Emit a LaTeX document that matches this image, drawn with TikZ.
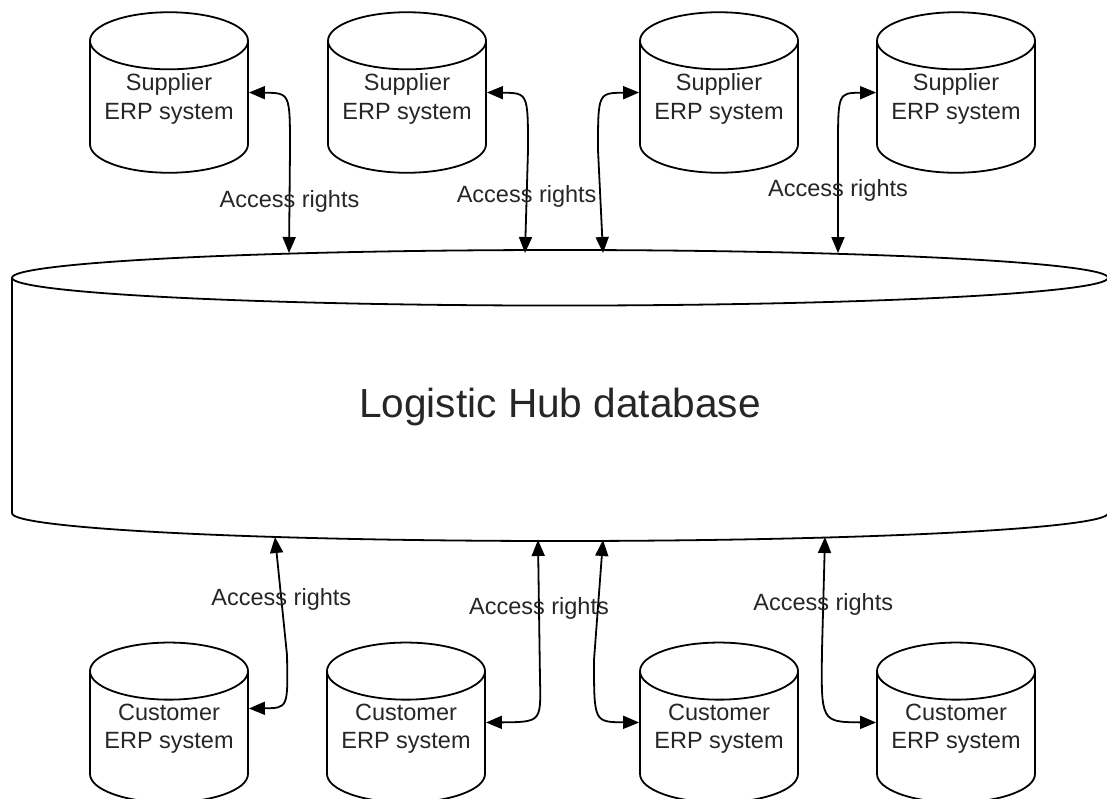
\documentclass[tikz,border=0pt]{standalone}
\usepackage{fontspec}
\setmainfont{Liberation Sans}
\usetikzlibrary{shapes.geometric,arrows.meta}

\tikzset{
  db/.style={cylinder, shape border rotate=90, draw, line width=1.8pt,
    aspect=0.42, minimum width=158pt, minimum height=159pt, align=center,
    anchor=shape center, text depth=30pt,
    font=\fontsize{23.5}{28.5}\selectfont, text=black!85},
  hubdb/.style={cylinder, shape border rotate=90, draw, line width=1.8pt,
    aspect=0.136, minimum width=1096pt, minimum height=291pt,
    anchor=shape center, text depth=18pt,
    font=\fontsize{40.6}{48}\selectfont, text=black!85},
  acc/.style={{Triangle[length=16pt,width=13pt]}-{Triangle[length=16pt,width=13pt]},
    line width=1.8pt},
}

\begin{document}
\begin{tikzpicture}[x=1pt,y=-1pt]

        \useasboundingbox (0,0) rectangle (1107,798);

        \node[hubdb] (hub) at (560,395.5) {Logistic Hub database};

        \begin{scope}[every node/.style={db}]
          \node (s1) at (169,92.5)  {Supplier\\ERP system};
          \node (s2) at (407,92.5)  {Supplier\\ERP system};
          \node (s3) at (719,92.5)  {Supplier\\ERP system};
          \node (s4) at (956,92.5)  {Supplier\\ERP system};
          \node (c1) at (169,722.5) {Customer\\ERP system};
          \node (c2) at (406,722.5) {Customer\\ERP system};
          \node (c3) at (719,722.5) {Customer\\ERP system};
          \node (c4) at (956,722.5) {Customer\\ERP system};
        \end{scope}

        % ports on the hub
        \coordinate (t1) at (289,253);
        \coordinate (t2) at (525,253);
        \coordinate (t3) at (603,253);
        \coordinate (t4) at (838,253);
        \coordinate (u1) at (275,537);
        \coordinate (u2) at (538,540);
        \coordinate (u3) at (603,540);
        \coordinate (u4) at (825,537);

        \begin{scope}[every node/.style={font=\fontsize{23.5}{28}\selectfont, text=black!85}]
          \draw[acc] (s1.shape center -| s1.east) .. controls (290,93) .. (290,150) -- node {Access rights} (t1);
          \draw[acc] (s2.shape center -| s2.east) .. controls (528,93) .. (528,150) -- node[pos=.45] {Access rights} (t2);
          \draw[acc] (s3.shape center -| s3.west) .. controls (598,93) .. (598,150) -- (t3);
          \draw[acc] (s4.shape center -| s4.west) .. controls (838,93) .. (838,150) -- node[pos=.39] {Access rights} (t4);
          \draw[acc] (u1) -- node[pos=.53] {Access rights} (287,655) .. controls (288,708) .. ([yshift=14pt]c1.shape center -| c1.east);
          \draw[acc] (u2) -- node[pos=.49] {Access rights} (540,680) .. controls (541,722) .. (c2.shape center -| c2.east);
          \draw[acc] (u3) -- (594,660) .. controls (594,722) .. (c3.shape center -| c3.west);
          \draw[acc] (u4) -- node[pos=.6] {Access rights} (822,650) .. controls (821,722) .. (c4.shape center -| c4.west);
        \end{scope}

      \end{tikzpicture}
\end{document}
